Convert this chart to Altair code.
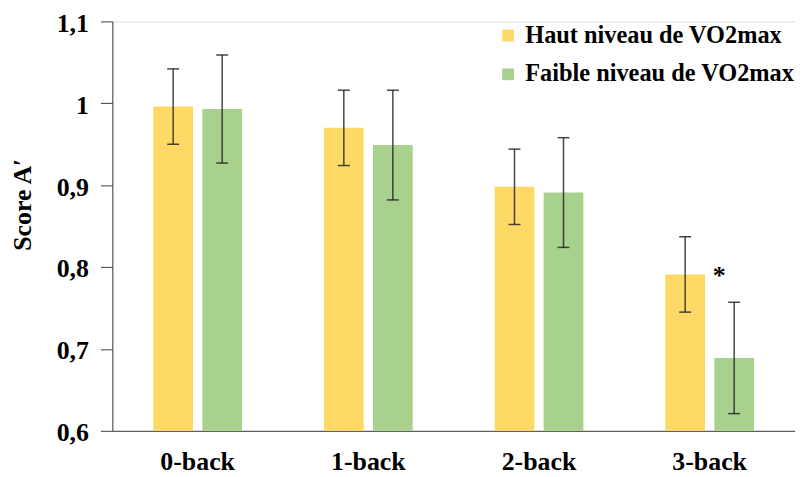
import altair as alt
import pandas as pd

categories = ["0-back", "1-back", "2-back", "3-back"]
groups = ["Haut niveau de VO2max", "Faible niveau de VO2max"]
colors = ["#FFD966", "#A9D18E"]
haut_mean = [0.996, 0.970, 0.898, 0.791]
haut_err = [0.046, 0.046, 0.046, 0.046]
faible_mean = [0.993, 0.949, 0.891, 0.689]
faible_err = [0.066, 0.067, 0.067, 0.068]
y_min, y_max = 0.6, 1.1
y_ticks = [0.6, 0.7, 0.8, 0.9, 1.0, 1.1]

rows = []
for i, c in enumerate(categories):
    for g, m, e in ((groups[0], haut_mean, haut_err), (groups[1], faible_mean, faible_err)):
        rows.append({"cat": c, "grp": g, "mean": m[i], "lo": m[i] - e[i], "hi": m[i] + e[i]})
df = pd.DataFrame(rows)

star = pd.DataFrame([{"cat": "3-back", "grp": groups[1], "mean": haut_mean[3], "txt": "*"}])

FONT = "Liberation Serif"

x_enc = alt.X("cat:N", sort=categories, title=None,
              scale=alt.Scale(paddingInner=0.48, paddingOuter=0.24),
              axis=alt.Axis(labelAngle=0, ticks=False, labelPadding=18, labelFontSize=26,
                            labelFont=FONT, labelFontWeight="bold", labelColor="black",
                            domainColor="#404040", domainWidth=1))
xo_enc = alt.XOffset("grp:N", sort=groups, scale=alt.Scale(paddingInner=0.19, paddingOuter=0))
y_scale = alt.Scale(domain=[y_min, y_max], nice=False, zero=False)

bars = alt.Chart(df).mark_bar().encode(
    x=x_enc,
    xOffset=xo_enc,
    y=alt.Y("mean:Q", scale=y_scale, title="Score A\u2032",
            axis=alt.Axis(values=y_ticks, grid=False, tickSize=12, tickColor="#404040",
                          domainColor="#404040", labelFont=FONT, labelFontWeight="bold",
                          labelFontSize=26, labelColor="black", labelPadding=12, labelOffset=2,
                          labelExpr="replace(format(datum.value, '.1~f'), '.', ',')",
                          titleFont=FONT, titleFontWeight="bold", titleFontSize=26,
                          titleColor="black", titleX=-82, titleY=184,
                          titleBaseline="alphabetic")),
    y2=alt.datum(y_min),
    color=alt.Color("grp:N", sort=groups, scale=alt.Scale(domain=groups, range=colors),
                    legend=alt.Legend(title=None, orient="none", legendX=386, legendY=2,
                                      symbolType="square", symbolSize=140, symbolStrokeWidth=0,
                                      labelFont=FONT, labelFontWeight="bold", labelFontSize=24.5,
                                      labelColor="black", labelLimit=400, labelOffset=5,
                                      rowPadding=14, padding=0)),
)

rules = alt.Chart(df).mark_rule(color="#262626", strokeWidth=1.5, opacity=0.85).encode(
    x=alt.X("cat:N", sort=categories),
    xOffset=alt.XOffset("grp:N", sort=groups),
    y=alt.Y("lo:Q", scale=y_scale),
    y2="hi:Q",
)
caps_lo = alt.Chart(df).mark_tick(color="#262626", thickness=1.5, size=12, opacity=0.85).encode(
    x=alt.X("cat:N", sort=categories),
    xOffset=alt.XOffset("grp:N", sort=groups),
    y=alt.Y("lo:Q", scale=y_scale),
)
caps_hi = alt.Chart(df).mark_tick(color="#262626", thickness=1.5, size=12, opacity=0.85).encode(
    x=alt.X("cat:N", sort=categories),
    xOffset=alt.XOffset("grp:N", sort=groups),
    y=alt.Y("hi:Q", scale=y_scale),
)
stars = alt.Chart(star).mark_text(font=FONT, fontWeight="bold", fontSize=26, color="black",
                                  baseline="alphabetic", dx=-15, dy=10).encode(
    x=alt.X("cat:N", sort=categories),
    xOffset=alt.XOffset("grp:N", sort=groups),
    y=alt.Y("mean:Q", scale=y_scale),
    text="txt:N",
)

chart = alt.layer(bars, rules, caps_lo, caps_hi, stars).properties(
    width=687, height=412,
    autosize=alt.AutoSizeParams(type="none"),
    padding={"left": 105, "top": 12, "right": 0, "bottom": 52},
).configure_view(stroke=None).configure(background="white")

chart.save("out.html", embed_options={"renderer": "svg", "actions": False})
